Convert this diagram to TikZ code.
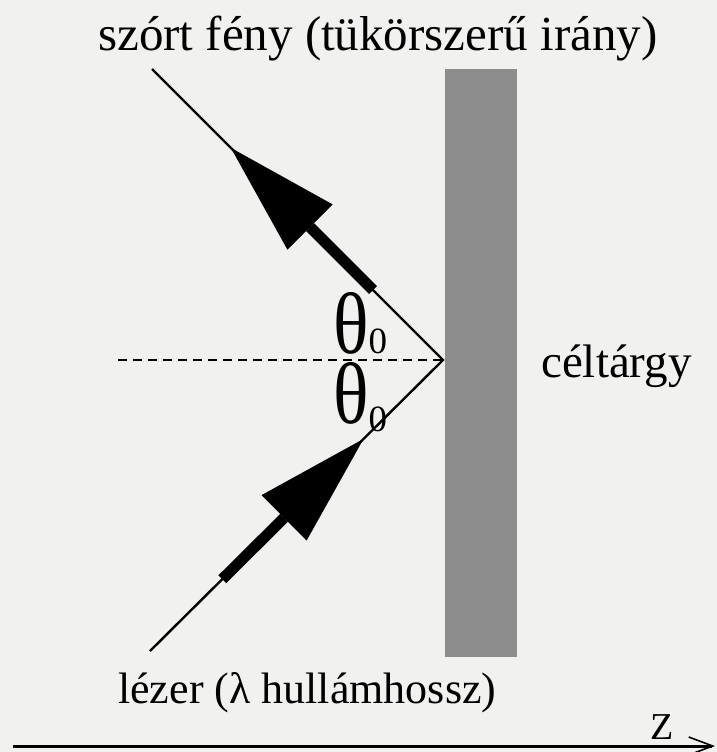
\documentclass[tikz,border=0pt]{standalone}
\usepackage{fontspec}
\setmainfont{Liberation Serif}
\usepackage{tikz}
\usetikzlibrary{arrows.meta,positioning,calc}

\definecolor{paper}{RGB}{241,241,240}
\definecolor{targetgray}{RGB}{140,140,140}

\newcommand{\thetazero}[1]{\scalebox{1}[1.18]{θ}\raisebox{#1}{\fontsize{37}{37}\selectfont 0}}

\begin{document}
\begin{tikzpicture}[
    x=1pt, y=-1pt,
    txt/.style={inner sep=0pt, anchor=base west, font=\fontsize{44}{48}\selectfont},
    ray/.style={line width=2.4pt},
    beam/.style={line width=11pt, -{Triangle[length=112pt, width=64pt, line width=0pt]}},
    angle/.style={inner sep=0pt, anchor=base west, font=\fontsize{74}{74}\selectfont}
]
\fill[paper] (0,0) rectangle (717,752);
\useasboundingbox (0,0) rectangle (717,752);

% target plate
\fill[targetgray] (445,69) rectangle (517,657);

\coordinate (hit) at (443,360);
\coordinate (in) at (150,651);
\coordinate (out) at (152,69);
\coordinate (normal) at (118,360);

\draw[line width=2.5pt, dash pattern=on 8.5pt off 6.5pt] (normal) -- (hit);
\draw[ray] (in) -- (hit) -- (out);

% thick arrows on the rays
\coordinate (intail) at ($(hit)!311pt!(in)$);
\coordinate (intip) at ($(hit)!112pt!(in)$);
\coordinate (outtail) at ($(hit)!99pt!(out)$);
\coordinate (outtip) at ($(hit)!300pt!(out)$);
\draw[beam] (intail) -- (intip);
\draw[beam] (outtail) -- (outtip);

\node[angle] (thup) at (333,353) {\thetazero{0pt}};
\node[angle] (thdown) at (333,423) {\thetazero{-8pt}};

\node[txt, font=\fontsize{49}{52}\selectfont] (scat) at (98,51) {szórt fény (tükörszerű irány)};
\node[txt] (laser) at (118,703) {lézer (λ hullámhossz)};
\node[txt, font=\fontsize{47}{50}\selectfont] (target) at (541,377) {céltárgy};

% z axis
\coordinate (z0) at (13,746);
\coordinate (z1) at (715,746);
\draw[line width=3pt, -{Straight Barb[length=24pt, width=18pt, line width=1.6pt]}] (z0) -- (z1);
\node[txt, font=\fontsize{38}{40}\selectfont] (zlab) at (650,739) {Z};
\end{tikzpicture}
\end{document}
